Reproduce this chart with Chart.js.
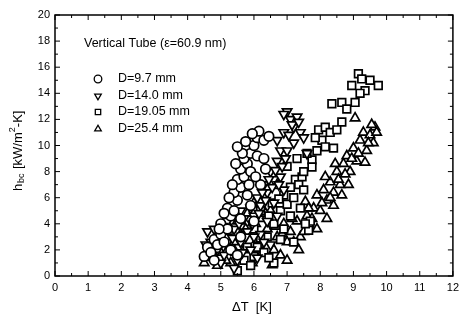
<!DOCTYPE html>
<html>
<head>
<meta charset="utf-8">
<script src="https://cdn.jsdelivr.net/npm/chart.js@4.4.1/dist/chart.umd.min.js"></script>
<style>
  body { margin: 0; background: #fff; }
  #wrap { width: 460px; height: 320px; }
</style>
</head>
<body>
<div id="wrap"><canvas id="chart" width="460" height="320"></canvas></div>
<script>
// data: [dT (K), h_bc (kW/m2-K)]
var d97 = [[4.5,1.5],[4.6,2.2],[4.7,1.8],[4.8,2.8],[4.9,2.4],[5.0,3.2],[5.1,2.6],[5.0,4.0],[5.2,3.6],[5.3,4.6],
    [5.2,5.2],[5.4,5.0],[5.5,5.8],[5.4,6.4],[5.6,6.8],[5.5,7.4],[5.7,7.6],[5.6,8.2],[5.8,8.6],[5.7,9.0],
    [5.9,9.4],[5.65,9.4],[6.0,10.0],[6.1,10.6],[6.15,11.1],[6.3,10.4],[6.45,10.7],[5.9,8.0],[6.1,9.2],[5.8,6.2],
    [5.6,4.4],[5.9,5.4],[5.3,2.0],[5.6,3.0],[6.0,4.2],[6.2,7.0],[4.8,1.2],[5.5,1.6],[5.45,8.6],[5.5,9.9],
    [5.75,10.3],[5.95,10.9],[5.35,7.0],[5.25,6.0],[5.1,4.8],[4.95,3.6],[6.3,9.0],[6.35,8.2],[6.05,7.6],[5.85,7.0]];
var d140 = [[4.6,3.4],[4.7,2.6],[4.8,3.6],[4.9,2.0],[5.0,1.0],[5.0,2.8],[5.1,1.6],[5.2,3.0],[5.3,2.2],[5.2,4.2],
    [5.4,3.6],[5.5,1.2],[5.6,2.6],[5.7,4.4],[5.8,3.4],[5.9,5.2],[6.0,4.6],[6.1,6.0],[6.2,5.4],[6.3,7.0],
    [6.4,6.4],[6.5,8.0],[6.4,4.2],[6.6,7.4],[6.7,8.8],[6.8,9.6],[6.7,10.4],[6.9,11.0],[7.0,12.6],[7.1,12.0],
    [6.9,12.4],[7.2,11.4],[7.3,12.2],[7.4,11.0],[7.2,10.2],[7.0,9.6],[7.5,10.6],[7.6,9.4],[6.8,7.6],[6.9,6.6],
    [6.6,5.6],[6.2,3.2],[5.9,2.0],[6.1,1.4],[5.4,0.6],[5.6,5.0],[6.5,2.4],[6.65,8.1],[4.55,2.4],[4.75,1.6],
    [5.05,3.8],[5.35,2.9],[5.55,4.0],[5.75,3.0],[5.95,4.0],[6.15,4.8],[6.35,5.8],[6.55,6.8],[6.75,7.0],[6.85,8.4],
    [7.05,10.8],[7.15,11.6],[7.35,11.8],[6.95,9.0],[6.25,6.4],[6.45,7.4],[6.0,3.0],[5.65,1.8],[6.3,2.6],[6.7,4.6]];
var d1905 = [[5.5,0.4],[5.7,1.2],[5.9,0.8],[6.1,2.2],[6.3,1.8],[6.4,3.0],[6.6,4.0],[6.55,5.6],[6.8,5.0],[6.9,6.2],
    [7.1,6.8],[7.25,7.4],[7.45,7.6],[7.5,8.0],[7.75,8.9],[7.6,9.4],[7.95,11.2],[8.05,10.4],[8.15,11.4],[8.15,9.9],
    [8.4,9.8],[8.65,11.8],[8.35,13.2],[8.65,13.3],[9.05,13.3],[8.95,14.6],[9.15,15.5],[9.35,14.2],[9.5,15.0],[9.75,14.6],
    [7.65,3.5],[7.7,4.2],[7.4,5.2],[7.1,4.6],[6.9,3.6],[7.2,2.6],[6.6,1.0],[6.0,3.6],[6.2,5.0],[6.7,7.0],
    [7.0,8.4],[7.75,8.35],[7.35,7.0],[5.8,2.2],[6.0,1.5],[6.2,2.9],[6.45,4.6],[6.75,5.9],[7.0,5.5],[7.2,6.0],
    [7.5,6.6],[7.9,9.6],[7.85,10.6],[8.3,11.0],[8.5,11.2],[8.8,12.8],[9.25,15.1],[9.2,14.0],[7.55,4.0],[6.8,2.8],
    [6.45,1.4],[7.3,9.0]];
var d254 = [[4.5,1.0],[4.6,2.0],[4.7,1.4],[4.8,2.4],[4.9,0.8],[5.0,1.8],[5.1,3.0],[5.2,2.0],[5.3,1.0],[5.3,3.6],
    [5.4,2.6],[5.5,4.2],[5.6,3.2],[5.7,2.0],[5.8,4.8],[5.9,3.8],[6.0,5.6],[6.1,2.8],[6.2,4.4],[6.3,6.2],
    [6.4,3.6],[6.5,5.0],[6.6,2.0],[6.55,0.85],[6.7,3.0],[6.8,1.6],[6.9,4.0],[7.0,2.6],[7.35,2.0],
    [7.1,3.4],[7.3,4.2],[7.4,3.0],[7.55,5.7],[7.6,4.6],[7.7,3.8],[7.8,5.2],[7.9,6.2],[8.0,5.0],[8.1,6.6],
    [8.2,5.8],[8.3,7.2],[8.4,6.4],[8.5,8.0],[8.6,7.0],[8.7,8.6],[8.85,7.0],[8.8,9.2],[8.9,8.0],[9.0,9.8],
    [9.1,8.8],[9.2,10.4],[9.35,8.7],[9.3,11.0],[9.4,9.6],[9.5,10.8],[9.65,11.4],[9.05,12.1],[9.6,10.2],[9.7,11.0],
    [8.2,4.4],[7.9,3.6],[8.4,5.4],[8.65,6.2],[7.0,1.2],[7.2,2.6],[7.5,3.4],[7.75,4.4],[8.05,5.6],[8.3,6.0],
    [8.55,7.4],[8.75,7.8],[8.95,9.0],[9.15,9.4],[9.45,10.2],[9.55,11.6],[8.45,8.6],[8.15,7.6],[7.65,5.2],[7.15,4.4],
    [5.15,1.2],[5.45,1.8],[5.75,3.6],[6.05,4.0],[6.35,4.8],[6.65,3.8],[5.95,1.0],[6.25,1.8],[4.85,3.0],[6.85,3.2]];
var seriesNames = ["D=9.7 mm", "D=14.0 mm", "D=19.05 mm", "D=25.4 mm"];
var xTicks = [0, 1, 2, 3, 4, 5, 6, 7, 8, 9, 10, 11, 12];
var yTicks = [0, 2, 4, 6, 8, 10, 12, 14, 16, 18, 20];

function toXY(arr) {
    return arr.map(function (p) { return {x: p[0], y: p[1]}; });
}

var FONT = "'Liberation Sans', Arial, sans-serif";

var markerStyles = [
    {pointStyle: 'circle', rotation: 0, radius: 4.8},
    {pointStyle: 'triangle', rotation: 180, radius: 5.4},
    {pointStyle: 'rect', rotation: 0, radius: 5.4},
    {pointStyle: 'triangle', rotation: 0, radius: 5.4}
];
var allData = [d97, d140, d1905, d254];

var datasets = allData.map(function (arr, i) {
    return {
        label: seriesNames[i],
        data: toXY(arr),
        pointStyle: markerStyles[i].pointStyle,
        rotation: markerStyles[i].rotation,
        pointRadius: markerStyles[i].radius,
        pointBorderWidth: 1.7,
        pointBorderColor: '#000',
        pointBackgroundColor: '#fff',
        showLine: false
    };
});

// frame, inward ticks, titles and the legend box
var decor = {
    id: 'decor',
    afterDraw: function (chart) {
        var ctx = chart.ctx;
        var a = chart.chartArea;
        var xs = chart.scales.x, ys = chart.scales.y;
        ctx.save();
        ctx.strokeStyle = '#000';
        ctx.lineWidth = 1.5;
        ctx.strokeRect(a.left, a.top, a.right - a.left, a.bottom - a.top);

        ctx.lineWidth = 1;
        ctx.beginPath();
        for (var v = 0; v <= 12; v += 0.5) {
            var px = xs.getPixelForValue(v);
            var len = (v % 1 === 0) ? 5 : 3;
            ctx.moveTo(px, a.bottom); ctx.lineTo(px, a.bottom - len);
            ctx.moveTo(px, a.top); ctx.lineTo(px, a.top + len);
        }
        for (var w = 0; w <= 20; w += 1) {
            var py = ys.getPixelForValue(w);
            var l2 = (w % 2 === 0) ? 5 : 3;
            ctx.moveTo(a.left, py); ctx.lineTo(a.left + l2, py);
            ctx.moveTo(a.right, py); ctx.lineTo(a.right - l2, py);
        }
        ctx.stroke();

        // x title
        ctx.fillStyle = '#000';
        ctx.font = '13px ' + FONT;
        ctx.textBaseline = 'middle';
        ctx.textAlign = 'left';
        ctx.fillText('\u0394T  [K]', 232, 307);

        // y title, rotated
        ctx.save();
        ctx.translate(18, 145);
        ctx.rotate(-Math.PI / 2);
        ctx.font = '13px ' + FONT;
        ctx.fillText('h', -46, 0);
        ctx.font = '9px ' + FONT;
        ctx.fillText('bc', -38, 4);
        ctx.font = '13px ' + FONT;
        ctx.fillText('[kW/m', -24, 0);
        var mw = ctx.measureText('[kW/m').width;
        ctx.font = '9px ' + FONT;
        ctx.fillText('2', -24 + mw, -5);
        ctx.font = '13px ' + FONT;
        ctx.fillText('-K]', -24 + mw + 5, 0);
        ctx.restore();

        // legend title
        ctx.font = '12.5px ' + FONT;
        ctx.fillText('Vertical Tube (\u03b5=60.9 nm)', 84, 44);

        // legend rows
        var rowY = [79, 96, 112, 129];
        for (var i = 0; i < 4; i++) {
            var st = markerStyles[i];
            ctx.lineWidth = 1.3;
            ctx.strokeStyle = '#000';
            ctx.fillStyle = '#fff';
            Chart.helpers.drawPoint(ctx, {
                pointStyle: st.pointStyle,
                rotation: st.rotation,
                radius: 3.8,
                borderWidth: 1.3
            }, 98, rowY[i]);
            ctx.fillStyle = '#000';
            ctx.font = '12.5px ' + FONT;
            ctx.fillText(seriesNames[i], 118, rowY[i]);
        }
        ctx.restore();
    }
};

new Chart(document.getElementById('chart'), {
    type: 'scatter',
    data: {datasets: datasets},
    options: {
        responsive: false,
        animation: false,
        layout: {padding: {top: 15, right: -6, left: 0, bottom: 0}},
        plugins: {legend: {display: false}, tooltip: {enabled: false}},
        scales: {
            x: {
                type: 'linear', min: 0, max: 12,
                afterBuildTicks: function (s) { s.ticks = xTicks.map(function (v) { return {value: v}; }); },
                afterFit: function (s) { s.height = 44; s.paddingRight = 0; },
                grid: {display: false, drawTicks: false},
                border: {display: false},
                ticks: {color: '#000', font: {family: FONT, size: 11}, padding: 5, maxRotation: 0}
            },
            y: {
                type: 'linear', min: 0, max: 20,
                afterBuildTicks: function (s) { s.ticks = yTicks.map(function (v) { return {value: v}; }); },
                afterFit: function (s) { s.width = 55; },
                grid: {display: false, drawTicks: false},
                border: {display: false},
                ticks: {color: '#000', font: {family: FONT, size: 11}, padding: 5}
            }
        }
    },
    plugins: [decor]
});
</script>
</body>
</html>
